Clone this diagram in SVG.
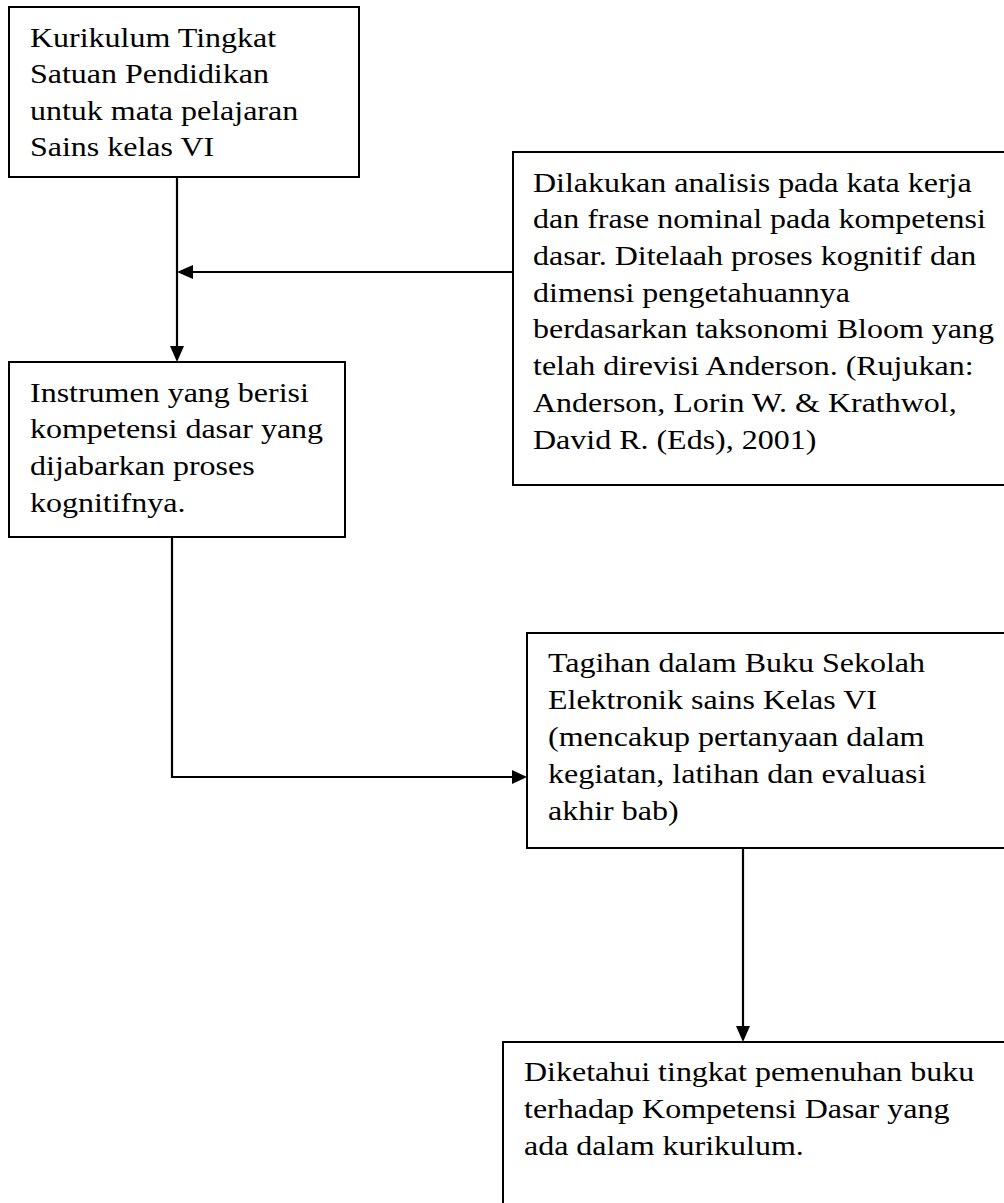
<svg xmlns="http://www.w3.org/2000/svg" width="1004" height="1203" viewBox="0 0 1004 1203">
<style>
.box{fill:#fff;stroke:#000;stroke-width:2}
.t{font-family:"Liberation Serif","Times New Roman",serif;font-size:28px;fill:#000}
.c{fill:none;stroke:#000;stroke-width:2.2}
.h{fill:#000;stroke:none}
</style>
<rect width="1004" height="1203" fill="#fff"/>
<g id="n1">
<rect class="box" x="9" y="7" width="350" height="170"/>
<text class="t" transform="translate(30,0) scale(1.143,1)"><tspan x="0" y="47">Kurikulum Tingkat</tspan><tspan x="0" y="83">Satuan Pendidikan</tspan><tspan x="0" y="120">untuk mata pelajaran</tspan><tspan x="0" y="156">Sains kelas VI</tspan></text>
</g>
<g id="n2">
<rect class="box" x="513" y="152" width="500" height="333"/>
<text class="t" transform="translate(533,0) scale(1.143,1)"><tspan x="0" y="192">Dilakukan analisis pada kata kerja</tspan><tspan x="0" y="228">dan frase nominal pada kompetensi</tspan><tspan x="0" y="265">dasar. Ditelaah proses kognitif dan</tspan><tspan x="0" y="302">dimensi pengetahuannya</tspan><tspan x="0" y="338">berdasarkan taksonomi Bloom yang</tspan><tspan x="0" y="375">telah direvisi Anderson. (Rujukan:</tspan><tspan x="0" y="412">Anderson, Lorin W. &amp; Krathwol,</tspan><tspan x="0" y="449">David R. (Eds), 2001)</tspan></text>
</g>
<g id="n3">
<rect class="box" x="9" y="362" width="336" height="175"/>
<text class="t" transform="translate(30,0) scale(1.143,1)"><tspan x="0" y="402">Instrumen yang berisi</tspan><tspan x="0" y="438">kompetensi dasar yang</tspan><tspan x="0" y="475">dijabarkan proses</tspan><tspan x="0" y="512">kognitifnya.</tspan></text>
</g>
<g id="n4">
<rect class="box" x="527" y="633" width="490" height="215"/>
<text class="t" transform="translate(548,0) scale(1.143,1)"><tspan x="0" y="672">Tagihan dalam Buku Sekolah</tspan><tspan x="0" y="709">Elektronik sains Kelas VI</tspan><tspan x="0" y="746">(mencakup pertanyaan dalam</tspan><tspan x="0" y="783">kegiatan, latihan dan evaluasi</tspan><tspan x="0" y="820">akhir bab)</tspan></text>
</g>
<g id="n5">
<rect class="box" x="503" y="1042" width="510" height="200"/>
<text class="t" transform="translate(524,0) scale(1.143,1)"><tspan x="0" y="1081">Diketahui tingkat pemenuhan buku</tspan><tspan x="0" y="1118">terhadap Kompetensi Dasar yang</tspan><tspan x="0" y="1155">ada dalam kurikulum.</tspan></text>
</g>
<g id="connectors">
<line class="c" x1="177" y1="177" x2="177" y2="347"/>
<polygon class="h" points="170,346 184,346 177,362"/>
<line class="c" x1="513" y1="272" x2="192" y2="272"/>
<polygon class="h" points="193,265 193,279 177,272"/>
<polyline class="c" points="172,537 172,777 513,777"/>
<polygon class="h" points="512,770 512,784 527,777"/>
<line class="c" x1="743" y1="848" x2="743" y2="1027"/>
<polygon class="h" points="736,1026 750,1026 743,1042"/>
</g>
</svg>
